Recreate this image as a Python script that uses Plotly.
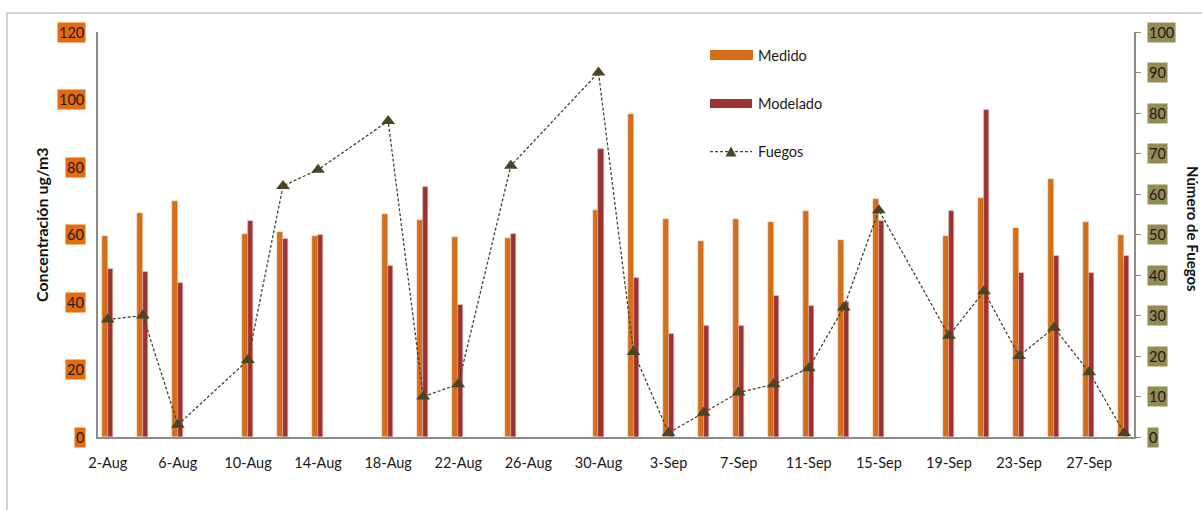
import pandas as pd
import plotly.graph_objects as go

# Sampling dates (daily PM concentration and fire counts)
fechas = ["2011-08-02", "2011-08-04", "2011-08-06", "2011-08-10", "2011-08-12",
          "2011-08-14", "2011-08-18", "2011-08-20", "2011-08-22", "2011-08-25",
          "2011-08-30", "2011-09-01", "2011-09-03", "2011-09-05", "2011-09-07",
          "2011-09-09", "2011-09-11", "2011-09-13", "2011-09-15", "2011-09-19",
          "2011-09-21", "2011-09-23", "2011-09-25", "2011-09-27", "2011-09-29"]

medido = [59.5, 66.3, 69.9, 60.1, 60.7, 59.5, 66.0, 64.2, 59.2, 58.9,
          67.2, 95.7, 64.5, 58.0, 64.5, 63.6, 66.9, 58.3, 70.5, 59.5,
          70.8, 61.9, 76.4, 63.6, 59.8]

modelado = [49.9, 48.8, 45.6, 64.0, 58.7, 59.8, 50.8, 74.0, 39.1, 60.2,
            85.3, 47.1, 30.5, 33.0, 33.0, 41.9, 38.7, 40.1, 64.1, 67.0,
            96.9, 48.5, 53.6, 48.5, 53.6]

fuegos = [29, 30, 3, 19, 62, 66, 78, 10, 13, 67,
          90, 21, 1, 6, 11, 13, 17, 32, 56, 25,
          36, 20, 27, 16, 1]

conc_ticks = [0, 20, 40, 60, 80, 100, 120]
fuego_ticks = [0, 10, 20, 30, 40, 50, 60, 70, 80, 90, 100]

FONT = "Lato"
C_MED = "#D56E17"
C_MOD = "#9C3333"
C_FUE = "#4A4526"
C_TICK_L = "#E46C0A"
C_TICK_R = "#948A54"
C_AXIS = "#8C8C8C"

DAY = 86400000  # ms
W, H = 1202, 510
L, R, T, B = 98, 1134, 32, 437  # plot area in pixels


def px(x):
    return (x - L) / (R - L)


def py(y):
    return (B - y) / (B - T)


x0 = pd.Timestamp(fechas[0]) - pd.Timedelta(hours=13.4)
x1 = pd.Timestamp(fechas[-1]) + pd.Timedelta(hours=13.4)

fig = go.Figure()
fig.add_trace(go.Bar(x=fechas, y=medido, name="Medido", marker_color=C_MED,
                     width=0.34 * DAY, offset=-0.34 * DAY, showlegend=False))
fig.add_trace(go.Bar(x=fechas, y=modelado, name="Modelado", marker_color=C_MOD,
                     marker_line=dict(color="#D9A3A3", width=0.6),
                     width=0.29 * DAY, offset=0, showlegend=False))
fig.add_trace(go.Scatter(x=fechas, y=fuegos, name="Fuegos", yaxis="y2",
                         mode="lines+markers",
                         line=dict(color=C_FUE, width=1.3, dash="3px,2px"),
                         marker=dict(symbol="triangle-up", size=12, color=C_FUE),
                         showlegend=False))

ann = []
for v in conc_ticks:
    ann.append(dict(xref="paper", yref="y", x=px(86), y=v, text=str(v),
                    xanchor="right", yanchor="middle", showarrow=False,
                    bgcolor=C_TICK_L, borderpad=1,
                    font=dict(family=FONT, size=14.5, color="#1A1A1A")))
for v in fuego_ticks:
    ann.append(dict(xref="paper", yref="y2", x=px(1147), y=v, text=str(v),
                    xanchor="left", yanchor="middle", showarrow=False,
                    bgcolor=C_TICK_R, borderpad=1,
                    font=dict(family=FONT, size=14.5, color="#1A1A1A")))

ann.append(dict(xref="paper", yref="paper", x=px(41), y=py(225),
                text="<b>Concentración ug/m3</b>", textangle=-90,
                xanchor="center", yanchor="middle", showarrow=False,
                font=dict(family=FONT, size=16, color="#111111")))
ann.append(dict(xref="paper", yref="paper", x=px(1193), y=py(229),
                text="<b>Número de Fuegos</b>", textangle=90,
                xanchor="center", yanchor="middle", showarrow=False,
                font=dict(family=FONT, size=15, color="#111111")))

# legend entries
leg = [("Medido", 55), ("Modelado", 103.5), ("Fuegos", 151.5)]
for name, yc in leg:
    ann.append(dict(xref="paper", yref="paper", x=px(756), y=py(yc), text=name,
                    xanchor="left", yanchor="middle", showarrow=False,
                    font=dict(family=FONT, size=14.5, color="#1A1A1A")))

shapes = [
    # chart frame
    dict(type="rect", xref="paper", yref="paper", x0=px(7), x1=px(1215),
         y0=py(530), y1=py(13), line=dict(color="#A6A6A6", width=1),
         fillcolor="rgba(0,0,0,0)", layer="below"),
    dict(type="rect", xref="paper", yref="paper", x0=px(710), x1=px(753),
         y0=py(60), y1=py(50), line=dict(width=0), fillcolor=C_MED),
    dict(type="rect", xref="paper", yref="paper", x0=px(710), x1=px(752),
         y0=py(108), y1=py(99), line=dict(width=0), fillcolor=C_MOD),
    dict(type="line", xref="paper", yref="paper", x0=px(710), x1=px(752),
         y0=py(151.7), y1=py(151.7),
         line=dict(color=C_FUE, width=1.3, dash="3px,2px")),
    dict(type="path", xref="paper", yref="paper",
         path=f"M {px(725.5)},{py(156.5)} L {px(736.5)},{py(156.5)} "
              f"L {px(731)},{py(146.5)} Z",
         line=dict(width=0), fillcolor=C_FUE),
]

fig.update_layout(
    width=W, height=H,
    margin=dict(l=L, r=W - R, t=T, b=H - B),
    paper_bgcolor="white", plot_bgcolor="white",
    barmode="overlay", bargap=0,
    font=dict(family=FONT, size=14.5, color="#1A1A1A"),
    annotations=ann, shapes=shapes,
    xaxis=dict(type="date", range=[x0, x1], tick0=fechas[0], dtick=4 * DAY,
               tickformat="%-d-%b", showgrid=False, zeroline=False,
               showline=True, linecolor=C_AXIS, linewidth=2, ticks="",
               ticklabelstandoff=12,
               tickfont=dict(family=FONT, size=14.5, color="#1A1A1A")),
    yaxis=dict(range=[0, 120], dtick=20, showgrid=False, zeroline=False,
               showline=True, linecolor=C_AXIS, linewidth=2,
               showticklabels=False, ticks=""),
    yaxis2=dict(range=[0, 100], dtick=10, overlaying="y", side="right",
                showgrid=False, zeroline=False, showline=True,
                linecolor=C_AXIS, linewidth=1.5, ticks="outside", ticklen=5,
                tickcolor=C_AXIS, showticklabels=False),
    showlegend=False,
)

fig.write_html("out.html")
